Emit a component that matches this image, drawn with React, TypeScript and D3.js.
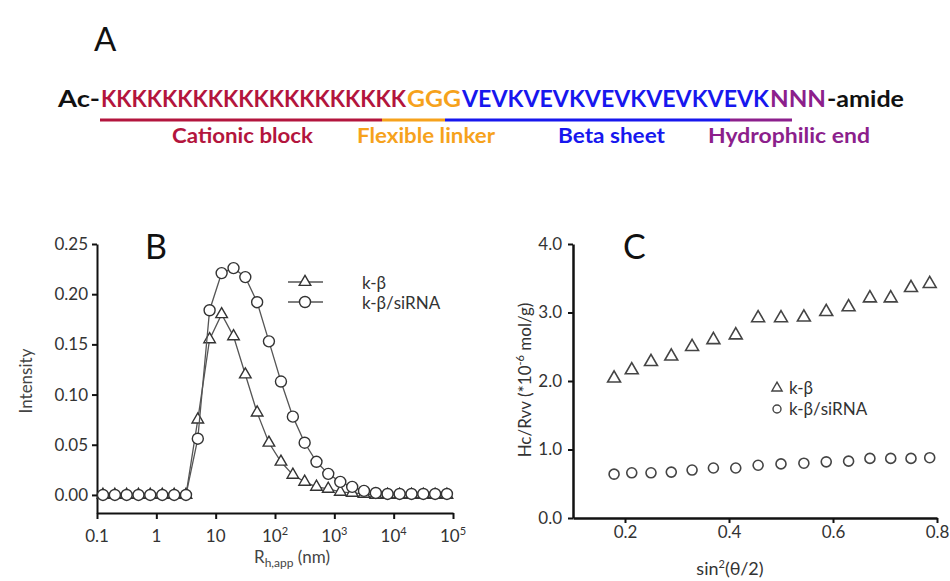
import React, { useEffect, useRef } from 'react';
import * as d3 from 'd3';

// Panel A: peptide sequence
const seqParts = ['Ac-', 'KKKKKKKKKKKKKKKKKKKK', 'GGG', 'VEVKVEVKVEVKVEVKVEVK', 'NNN', '-amide'];
const blockNames = ['Cationic block', 'Flexible linker', 'Beta sheet', 'Hydrophilic end'];

// Panel B: size distribution
const rhValues = [0.126, 0.2, 0.316, 0.5, 0.79, 1.26, 2, 3.16, 5, 7.9, 12.6, 20, 31.6, 50, 79, 126, 200, 316, 500, 790, 1260, 2000, 3160, 5000, 7900, 12600, 20000, 31600, 50000, 79000];
const intensityKB = [0, 0, 0, 0, 0, 0, 0, 0, 0.075, 0.155, 0.180, 0.158, 0.120, 0.082, 0.052, 0.033, 0.020, 0.013, 0.008, 0.006, 0.003, 0.002, 0.001, 0, 0, 0, 0, 0, 0, 0];
const intensityKBsi = [0, 0, 0, 0, 0, 0, 0, 0, 0.056, 0.184, 0.221, 0.226, 0.217, 0.192, 0.153, 0.113, 0.078, 0.052, 0.033, 0.021, 0.013, 0.008, 0.004, 0.002, 0.001, 0.001, 0.001, 0.001, 0.001, 0.001];
const bXTicks = [0.1, 1, 10, 100, 1000, 10000, 100000];
const bYTicks = [0, 0.05, 0.1, 0.15, 0.2, 0.25];

// Panel C: Debye plot
const sinValues = [0.179, 0.213, 0.25, 0.289, 0.329, 0.370, 0.413, 0.456, 0.5, 0.544, 0.587, 0.630, 0.671, 0.711, 0.75, 0.786];
const hcKB = [2.04, 2.16, 2.28, 2.36, 2.50, 2.60, 2.67, 2.92, 2.92, 2.93, 3.01, 3.08, 3.21, 3.21, 3.36, 3.42];
const hcKBsi = [0.64, 0.66, 0.66, 0.67, 0.70, 0.73, 0.73, 0.77, 0.79, 0.80, 0.82, 0.83, 0.87, 0.87, 0.87, 0.88];
const cXTicks = [0.2, 0.4, 0.6, 0.8];
const cYTicks = [0, 1, 2, 3, 4];

const seriesNames = ['k-β', 'k-β/siRNA'];

const FONT = 'Lato, "Open Sans", sans-serif';

const App = () => {
    const svgRef = useRef(null);

    useEffect(() => {
        const svg = d3.select(svgRef.current);
        svg.selectAll('*').remove();

        svg.append('rect').attr('width', 950).attr('height', 581).attr('fill', 'white');

        // ---------- Panel A ----------
        const seqColors = ['#111', '#b3153d', '#f6a21c', '#1717ee', '#8c1f8c', '#111'];
        const seqX = [58, 101, 407, 462, 770, 827, 905];
        const seq = svg.append('g').style('font-family', FONT).style('font-weight', 'bold');
        const segs = seqParts.map((s, i) => seq.append('text')
            .attr('x', seqX[i])
            .attr('y', 107)
            .style('font-size', '24px')
            .style('fill', seqColors[i])
            .text(s));
        // shrink the font so no segment is wider than its slot, then stretch to fit
        let ratio = 1;
        segs.forEach((t, i) => {
            const natural = (t.node() as SVGTextElement).getComputedTextLength();
            const slot = seqX[i + 1] - seqX[i] - 1;
            if (natural > slot) ratio = Math.min(ratio, slot / natural);
        });
        segs.forEach((t, i) => {
            t.style('font-size', `${24 * ratio}px`)
                .attr('textLength', seqX[i + 1] - seqX[i] - 1)
                .attr('lengthAdjust', 'spacingAndGlyphs');
        });

        const lineX = [100, 382, 445, 730, 792];
        blockNames.forEach((_, i) => {
            seq.append('line')
                .attr('x1', lineX[i]).attr('x2', lineX[i + 1])
                .attr('y1', 120).attr('y2', 120)
                .attr('stroke', seqColors[i + 1])
                .attr('stroke-width', 3);
        });

        const labelX = [[172, 313], [357, 495], [558, 665], [708, 870]];
        blockNames.forEach((name, i) => {
            seq.append('text')
                .attr('x', labelX[i][0])
                .attr('y', 143)
                .attr('textLength', labelX[i][1] - labelX[i][0])
                .attr('lengthAdjust', 'spacingAndGlyphs')
                .style('font-size', '20px')
                .style('fill', seqColors[i + 1])
                .text(name);
        });

        svg.append('text').attr('x', 94).attr('y', 51)
            .style('font-family', FONT).style('font-size', '33px').style('fill', '#111').text('A');

        // ---------- Panel B ----------
        const xB = d3.scaleLog().domain([0.1, 100000]).range([97, 453]);
        const yB = d3.scaleLinear().domain([-0.018, 0.25]).range([513, 244]);
        const gB = svg.append('g').style('font-family', FONT);

        const yAxisB = d3.axisLeft(yB).tickValues(bYTicks).tickSize(5).tickSizeOuter(0).tickPadding(4)
            .tickFormat(d => d3.format('.2f')(d));
        const yAxB = gB.append('g').attr('transform', `translate(${xB.range()[0]},0)`).call(yAxisB);
        yAxB.selectAll('text').style('font-size', '17px').style('font-family', FONT).style('fill', '#333');

        const xAxisB = d3.axisBottom(xB).tickValues(bXTicks).tickSize(6).tickSizeOuter(0).tickFormat(() => '');
        const xAxB = gB.append('g').attr('transform', `translate(0,${yB.range()[0]})`).call(xAxisB);

        [yAxB, xAxB].forEach(ax => {
            ax.select('.domain').attr('stroke', '#111').attr('stroke-width', 2);
            ax.selectAll('.tick line').attr('stroke', '#111').attr('stroke-width', 2);
        });

        bXTicks.forEach(t => {
            const txt = gB.append('text')
                .attr('x', xB(t))
                .attr('y', 542)
                .attr('text-anchor', 'middle')
                .style('font-size', '17px')
                .style('fill', '#333');
            const e = Math.round(Math.log10(t));
            if (e < 2) {
                txt.text(t === 0.1 ? '0.1' : String(t));
            } else {
                txt.append('tspan').text('10');
                txt.append('tspan').attr('dy', -7).style('font-size', '11px').text(String(e));
            }
        });

        const xLabB = gB.append('text').attr('x', 292).attr('y', 563).attr('text-anchor', 'middle')
            .style('font-size', '17px').style('fill', '#444');
        xLabB.append('tspan').text('R');
        xLabB.append('tspan').attr('dy', 4).style('font-size', '12px').text('h,app');
        xLabB.append('tspan').attr('dy', -4).text(' (nm)');

        gB.append('text').attr('transform', 'translate(32,381) rotate(-90)').attr('text-anchor', 'middle')
            .style('font-size', '17px').style('fill', '#444').text('Intensity');

        gB.append('text').attr('x', 145).attr('y', 259)
            .style('font-size', '34px').style('fill', '#111').text('B');

        const lineB = d3.line<number>().x((_, i) => xB(rhValues[i])).y(d => yB(d));
        const triangle = d3.symbol().type(d3.symbolTriangle).size(58);
        const triangleC = d3.symbol().type(d3.symbolTriangle).size(72);
        const triangleLeg = d3.symbol().type(d3.symbolTriangle).size(45);

        gB.append('path').datum(intensityKB).attr('d', lineB)
            .attr('fill', 'none').attr('stroke', '#555').attr('stroke-width', 1.3);
        gB.selectAll('.tri-b').data(intensityKB).enter().append('path')
            .attr('class', 'tri-b')
            .attr('transform', (d, i) => `translate(${xB(rhValues[i])},${yB(d)})`)
            .attr('d', triangle)
            .attr('fill', 'white').attr('stroke', '#333').attr('stroke-width', 1.4);

        gB.append('path').datum(intensityKBsi).attr('d', lineB)
            .attr('fill', 'none').attr('stroke', '#555').attr('stroke-width', 1.3);
        gB.selectAll('.circ-b').data(intensityKBsi).enter().append('circle')
            .attr('class', 'circ-b')
            .attr('cx', (_, i) => xB(rhValues[i]))
            .attr('cy', d => yB(d))
            .attr('r', 5.5)
            .attr('fill', 'white').attr('stroke', '#333').attr('stroke-width', 1.4);

        // legend B
        const legB = gB.append('g');
        [282, 302].forEach((y, i) => {
            legB.append('line').attr('x1', 288).attr('x2', 323).attr('y1', y).attr('y2', y)
                .attr('stroke', '#555').attr('stroke-width', 1.3);
            if (i === 0) {
                legB.append('path').attr('transform', `translate(305,${y})`).attr('d', triangle)
                    .attr('fill', 'white').attr('stroke', '#333').attr('stroke-width', 1.4);
            } else {
                legB.append('circle').attr('cx', 305).attr('cy', y).attr('r', 5.5)
                    .attr('fill', 'white').attr('stroke', '#333').attr('stroke-width', 1.4);
            }
            legB.append('text').attr('x', 362).attr('y', y + 7)
                .style('font-size', '17px').style('fill', '#333').text(seriesNames[i]);
        });

        // ---------- Panel C ----------
        const xC = d3.scaleLinear().domain([0.1, 0.8]).range([573, 937]);
        const yC = d3.scaleLinear().domain([0, 4]).range([518, 244]);
        const gC = svg.append('g').style('font-family', FONT);

        const yAxC = gC.append('g').attr('transform', `translate(${xC.range()[0]},0)`)
            .call(d3.axisLeft(yC).tickValues(cYTicks).tickSize(5).tickSizeOuter(0).tickPadding(6)
                .tickFormat(d => d3.format('.1f')(d)));
        const xAxC = gC.append('g').attr('transform', `translate(0,${yC.range()[0]})`)
            .call(d3.axisBottom(xC).tickValues(cXTicks).tickSize(5).tickSizeOuter(0).tickPadding(3)
                .tickFormat(d => d3.format('.1f')(d)));
        [yAxC, xAxC].forEach(ax => {
            ax.select('.domain').attr('stroke', '#111').attr('stroke-width', 2.5);
            ax.selectAll('.tick line').attr('stroke', '#111').attr('stroke-width', 2);
            ax.selectAll('text').style('font-size', '17px').style('font-family', FONT).style('fill', '#333');
        });

        const xLabC = gC.append('text').attr('x', 730).attr('y', 575).attr('text-anchor', 'middle')
            .style('font-size', '18px').style('fill', '#333');
        xLabC.append('tspan').text('sin');
        xLabC.append('tspan').attr('dy', -7).style('font-size', '11px').text('2');
        xLabC.append('tspan').attr('dy', 7).text('(θ/2)');

        const yLabC = gC.append('text').attr('transform', 'translate(531,380) rotate(-90)').attr('text-anchor', 'middle')
            .style('font-size', '17px').style('fill', '#333');
        yLabC.append('tspan').text('Hc/Rvv (*10');
        yLabC.append('tspan').attr('dy', -7).style('font-size', '11px').text('-6');
        yLabC.append('tspan').attr('dy', 7).text(' mol/g)');

        gC.append('text').attr('x', 623).attr('y', 259)
            .style('font-size', '34px').style('fill', '#111').text('C');

        gC.selectAll('.tri-c').data(hcKB).enter().append('path')
            .attr('class', 'tri-c')
            .attr('transform', (d, i) => `translate(${xC(sinValues[i])},${yC(d)})`)
            .attr('d', triangleC)
            .attr('fill', 'white').attr('stroke', '#444').attr('stroke-width', 1.6);
        gC.selectAll('.circ-c').data(hcKBsi).enter().append('circle')
            .attr('class', 'circ-c')
            .attr('cx', (_, i) => xC(sinValues[i]))
            .attr('cy', d => yC(d))
            .attr('r', 5)
            .attr('fill', 'white').attr('stroke', '#444').attr('stroke-width', 1.6);

        // legend C
        const legC = gC.append('g');
        [388, 409].forEach((y, i) => {
            if (i === 0) {
                legC.append('path').attr('transform', `translate(777,${y})`).attr('d', triangleLeg)
                    .attr('fill', 'white').attr('stroke', '#444').attr('stroke-width', 1.4);
            } else {
                legC.append('circle').attr('cx', 777).attr('cy', y).attr('r', 4)
                    .attr('fill', 'white').attr('stroke', '#444').attr('stroke-width', 1.4);
            }
            legC.append('text').attr('x', 789).attr('y', y + 6)
                .style('font-size', '17px').style('fill', '#333').text(seriesNames[i]);
        });
    }, []);

    return (
        <svg ref={svgRef} width={950} height={581}
            style={{ position: 'absolute', left: 0, top: 0, display: 'block' }}></svg>
    );
};

export default App;
